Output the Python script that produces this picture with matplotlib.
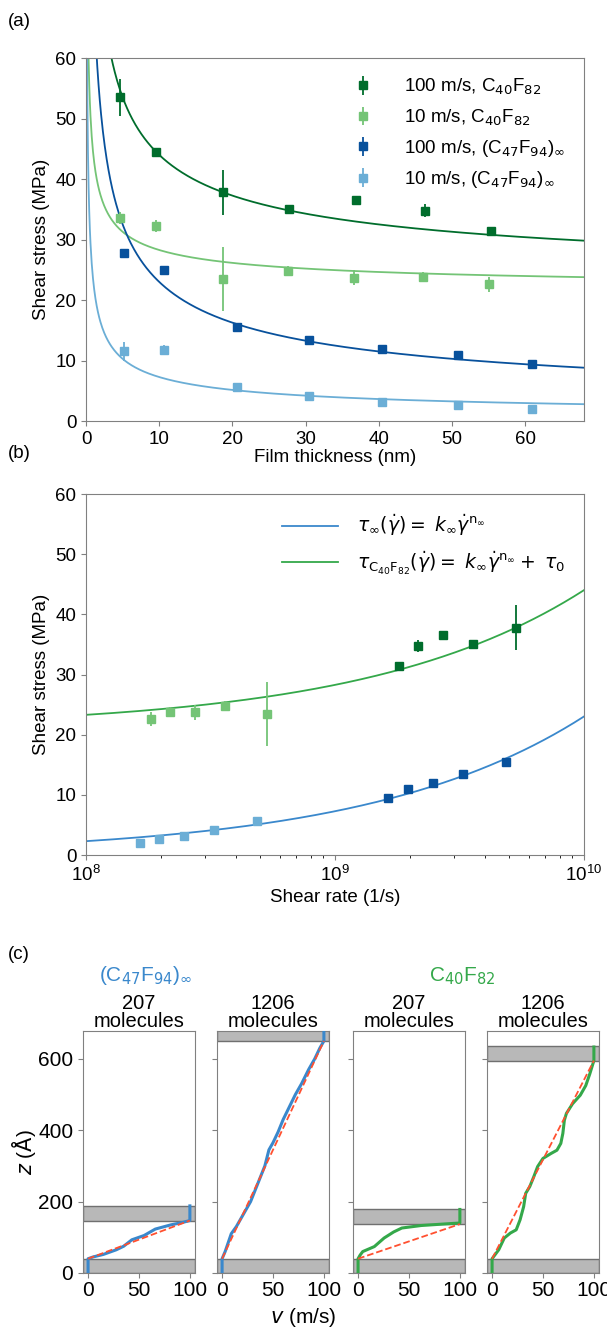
import numpy as np
import matplotlib
matplotlib.use('Agg')
import matplotlib.pyplot as plt

plt.rcParams['font.family'] = ['Liberation Sans', 'DejaVu Sans']
plt.rcParams['mathtext.fontset'] = 'dejavusans'

# ---- panel (a)/(b) data: film thickness (nm) and shear stress (MPa)
thick_100_c40 = [4.7, 9.6, 18.7, 27.8, 36.9, 46.3, 55.3]
tau_100_c40 = [53.5, 44.5, 37.8, 35.0, 36.5, 34.8, 31.4]
err_100_c40 = [3.0, 0.5, 3.7, 0.5, 0.4, 1.0, 0.6]

thick_10_c40 = [4.6, 9.6, 18.7, 27.6, 36.6, 46.0, 55.0]
tau_10_c40 = [33.6, 32.2, 23.5, 24.8, 23.7, 23.8, 22.6]
err_10_c40 = [1.0, 1.0, 5.3, 0.8, 1.2, 0.8, 1.2]

thick_100_c47 = [5.2, 10.7, 20.6, 30.5, 40.4, 50.8, 60.9]
tau_100_c47 = [27.7, 24.9, 15.5, 13.4, 11.9, 11.0, 9.4]
err_100_c47 = [0.5, 0.4, 0.6, 0.4, 0.4, 0.6, 0.4]

thick_10_c47 = [5.2, 10.7, 20.6, 30.5, 40.4, 50.8, 60.9]
tau_10_c47 = [11.5, 11.8, 5.6, 4.2, 3.2, 2.7, 2.0]
err_10_c47 = [1.5, 0.8, 0.4, 0.3, 0.3, 0.3, 0.3]

# fit parameters (MPa, 1/s)
K_INF = 2.3e-4
N_INF = 0.5
TAU_0 = 21.0

# ---- panel (c) velocity profiles: (v in m/s, z in Angstrom)
prof_207_c47_v = [0, 0, 5, 15, 27.7, 35, 43, 55, 66, 81.5, 92, 100, 100]
prof_207_c47_z = [0, 40, 45, 52, 65, 75, 93, 105, 123, 135, 141, 147, 188]
prof_1206_c47_v = [0, 0, 3, 6, 9, 14, 20, 28, 35, 42, 46, 50, 55, 60, 66, 72, 78, 85, 91, 96, 100, 100]
prof_1206_c47_z = [0, 40, 60, 85, 110, 130, 160, 200, 250, 300, 345, 365, 395, 430, 465, 500, 530, 570, 600, 630, 650, 680]
prof_207_c40_v = [0, 0, 2, 4.6, 16, 25.6, 35, 43, 62, 88.5, 100, 100]
prof_207_c40_z = [0, 40, 50, 60, 74, 98, 115, 126, 133, 138, 140, 178]
prof_1206_c40_v = [0, 0, 6.5, 12, 18, 23.7, 27.5, 31, 33, 37, 41, 44.7, 50, 58, 63.7, 67.5,
                   69.5, 71, 73, 79, 86.6, 92, 96, 100, 100]
prof_1206_c40_z = [0, 40, 65, 98, 112, 121, 149, 186, 223, 242, 270, 298, 321, 335, 344, 363,
                   391, 428, 447, 474, 498, 525, 558, 595, 633]
walls_207_c47 = [(0, 40), (147, 188)]
walls_1206_c47 = [(0, 40), (650, 700)]
walls_207_c40 = [(0, 40), (137, 178)]
walls_1206_c40 = [(0, 40), (595, 636)]

DKGREEN = '#006d2c'
LTGREEN = '#74c476'
DKBLUE = '#08519c'
LTBLUE = '#6baed6'
FITBLUE = '#3a88cc'
FITGREEN = '#34a84a'
SPINE = '#808080'
FS = 13.5
FSC = 15

fig = plt.figure(figsize=(6.07, 13.32), dpi=100)


def style_axes(ax, fs):
    for s in ax.spines.values():
        s.set_color(SPINE)
    ax.tick_params(colors=SPINE, labelcolor='black', labelsize=fs, length=3.5)


series = [
    (thick_100_c40, tau_100_c40, err_100_c40, 100, TAU_0, DKGREEN, '100 m/s, C$_{40}$F$_{82}$'),
    (thick_10_c40, tau_10_c40, err_10_c40, 10, TAU_0, LTGREEN, '10 m/s, C$_{40}$F$_{82}$'),
    (thick_100_c47, tau_100_c47, err_100_c47, 100, 0.0, DKBLUE, '100 m/s, (C$_{47}$F$_{94}$)$_{\\infty}$'),
    (thick_10_c47, tau_10_c47, err_10_c47, 10, 0.0, LTBLUE, '10 m/s, (C$_{47}$F$_{94}$)$_{\\infty}$'),
]

# ---- (a)
ax = fig.add_axes([0.1417, 0.6839, 0.820, 0.2725])
h = np.linspace(0.1, 68, 800)
for th, tau, err, v, t0, c, lab in series:
    ax.plot(h, t0 + K_INF * (v / (h * 1e-9)) ** N_INF, color=c, lw=1.3)
for th, tau, err, v, t0, c, lab in series:
    ax.errorbar(th, tau, yerr=err, fmt='s', color=c, ms=6, elinewidth=1.3, capsize=0, label=lab)
ax.set_xlim(0, 68)
ax.set_ylim(0, 60)
ax.set_xticks([0, 10, 20, 30, 40, 50, 60])
ax.set_yticks([0, 10, 20, 30, 40, 50, 60])
ax.set_xlabel('Film thickness (nm)', fontsize=FS, labelpad=1)
ax.set_ylabel('Shear stress (MPa)', fontsize=FS)
ax.legend(loc='upper right', frameon=False, fontsize=FS, handletextpad=1.2,
          borderaxespad=0.6, labelspacing=0.55)
style_axes(ax, FS)

# ---- (b)
ax = fig.add_axes([0.1417, 0.3581, 0.820, 0.271])
g = np.logspace(8, 10, 400)
ax.plot(g, K_INF * g ** N_INF, color=FITBLUE, lw=1.3,
        label=r'$\tau_{\infty}(\dot{\gamma}) = \ k_{\infty}\dot{\gamma}^{\mathrm{n}_{\infty}}$')
ax.plot(g, K_INF * g ** N_INF + TAU_0, color=FITGREEN, lw=1.3,
        label=r'$\tau_{\mathrm{C_{40}F_{82}}}(\dot{\gamma}) = \ k_{\infty}\dot{\gamma}^{\mathrm{n}_{\infty}} + \ \tau_0$')
for th, tau, err, v, t0, c, lab in series:
    rate = [v / (t * 1e-9) for t in th[2:]]
    ax.errorbar(rate, tau[2:], yerr=err[2:], fmt='s', color=c, ms=6, elinewidth=1.3, capsize=0)
ax.set_xscale('log')
ax.set_xlim(1e8, 1e10)
ax.set_ylim(0, 60)
ax.set_yticks([0, 10, 20, 30, 40, 50, 60])
ax.set_xlabel('Shear rate (1/s)', fontsize=FS, labelpad=3)
ax.set_ylabel('Shear stress (MPa)', fontsize=FS)
ax.legend(loc='upper right', frameon=False, fontsize=FS, handlelength=3.0,
          handletextpad=1.0, borderaxespad=0.6, labelspacing=0.6)
style_axes(ax, FS)

# ---- (c)
profiles = [
    (prof_207_c47_v, prof_207_c47_z, walls_207_c47, FITBLUE, '207\nmolecules'),
    (prof_1206_c47_v, prof_1206_c47_z, walls_1206_c47, FITBLUE, '1206\nmolecules'),
    (prof_207_c40_v, prof_207_c40_z, walls_207_c40, FITGREEN, '207\nmolecules'),
    (prof_1206_c40_v, prof_1206_c40_z, walls_1206_c40, FITGREEN, '1206\nmolecules'),
]
lefts = [0.1367, 0.3575, 0.5815, 0.8023]
axes_c = []
for i, (pv, pz, walls, c, title) in enumerate(profiles):
    ax = fig.add_axes([lefts[i], 0.0443, 0.1845, 0.1817])
    for lo, hi in walls:
        ax.axhspan(lo, hi, facecolor='#b8b8b8', edgecolor='#707070', lw=1.0, zorder=1)
    ax.plot(pv, pz, color=c, lw=2.2, zorder=3)
    z_lo = walls[0][1]
    z_hi = walls[1][0]
    ax.plot([0, 100], [z_lo, z_hi], '--', color='#ff5030', lw=1.3, zorder=4)
    ax.set_xlim(-5, 105)
    ax.set_ylim(0, 678)
    ax.set_xticks([0, 50, 100])
    ax.set_yticks([0, 200, 400, 600])
    if i > 0:
        ax.set_yticklabels([])
    ax.set_title(title, fontsize=FSC - 0.5, linespacing=0.95, pad=2)
    style_axes(ax, FSC)
    ax.tick_params(axis='x', pad=2)
    axes_c.append(ax)
axes_c[0].set_ylabel(r'$z$ ($\mathrm{\AA}$)', fontsize=FSC, labelpad=0)
fig.text(0.5, 0.002, r'$v$ (m/s)', fontsize=FSC, ha='center', va='bottom')
fig.text(0.24, 0.2635, '(C$_{47}$F$_{94}$)$_{\\infty}$', color=FITBLUE, fontsize=FSC, ha='center')
fig.text(0.762, 0.2635, 'C$_{40}$F$_{82}$', color=FITGREEN, fontsize=FSC, ha='center')

fig.text(0.013, 0.99, '(a)', fontsize=FS, va='top')
fig.text(0.013, 0.666, '(b)', fontsize=FS, va='top')
fig.text(0.013, 0.29, '(c)', fontsize=FS, va='top')

fig.savefig('out.png', dpi=100)
